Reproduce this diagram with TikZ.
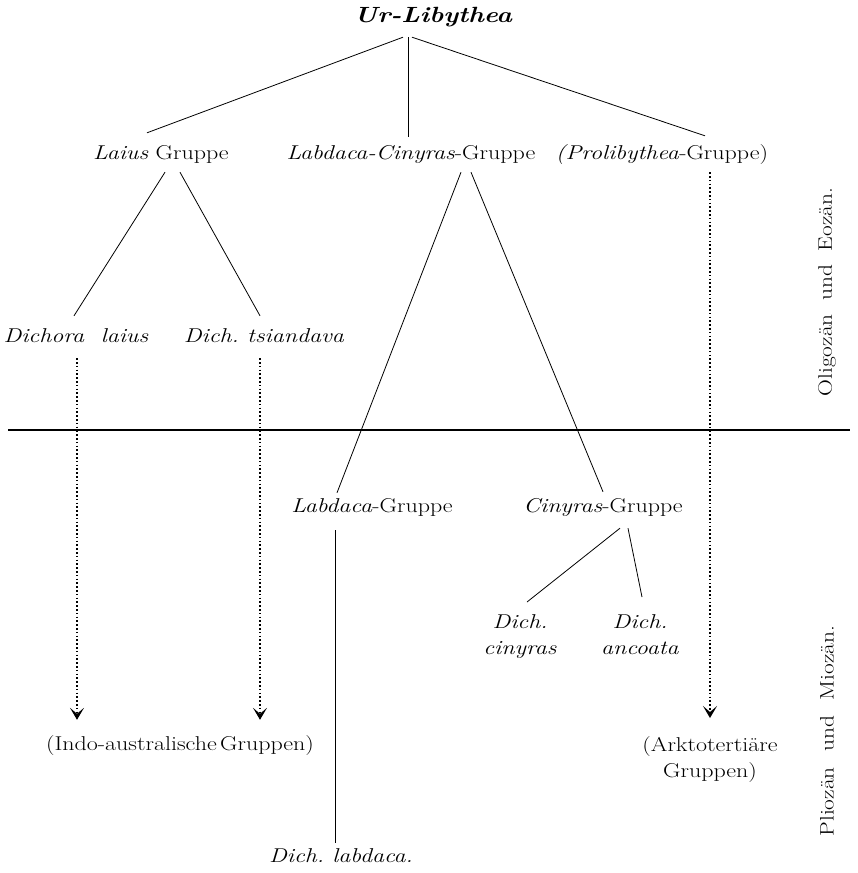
\documentclass[tikz,border=0pt]{standalone}
\usepackage{fontspec}
\setmainfont{Latin Modern Roman}[FakeStretch=1.2]
\usetikzlibrary{arrows.meta}
\begin{document}
\begin{tikzpicture}[x=1pt,y=-1pt,
  every node/.style={font=\fontsize{20}{26}\selectfont, inner sep=0pt},
  lbl/.style={anchor=base, text height=12pt, text depth=4pt},
  stack/.style={anchor=north, align=center},
  branch/.style={line width=0.8pt},
  lineage/.style={line width=1.2pt, dash pattern=on 1.6pt off 2.2pt,
    -{Stealth[length=12pt,width=14pt,inset=6pt]}},
  epoch/.style={rotate=90, font=\fontsize{19.5}{22}\selectfont},
]
\useasboundingbox (0,0) rectangle (858,873);

% root
\node[lbl, font=\fontsize{22}{24}\bfseries\itshape] (ur) at (433,22) {Ur-Libythea};

% first level groups
\node[lbl] (laius) at (161,159) {\textit{Laius} Gruppe};
\node[lbl] (lc)    at (411,159) {\textit{Labdaca-Cinyras}-Gruppe};
\node[lbl] (prol)  at (662,159) {\textit{(Prolibythea}-Gruppe)};

% species of the Laius group
\node[lbl] (dlaius) at (76,342)  {\textit{Dichora\ \ laius}};
\node[lbl] (dtsian) at (264,342) {\textit{Dich.\ tsiandava}};

% second level groups
\node[lbl] (labg) at (372,512) {\textit{Labdaca}-Gruppe};
\node[lbl] (cing) at (603,512) {\textit{Cinyras}-Gruppe};

% species of the Cinyras group
\node[stack] (dcin) at (520,614) {\textit{Dich.}\\\textit{cinyras}};
\node[stack] (danc) at (640,614) {\textit{Dich.}\\\textit{ancoata}};

\node[lbl] (dlab) at (341,862) {\textit{Dich.\ labdaca.}};

% descendant groups
\node[lbl] (indo) at (180,750) {(Indo-australische\,Gruppen)};
\node[stack] (arkt) at (710,736) {(Arktotertiäre\\Gruppen)};

% epochs
\node[epoch] (oli) at (827,292) {Oligozän\hspace{0.7em}und\hspace{0.7em}Eozän.};
\node[epoch] (pli) at (827,731) {Pliozän\hspace{0.8em}und\hspace{0.8em}Miozän.};

% epoch boundary
\coordinate (bl) at (8,430);
\coordinate (br) at (850,430);
\draw[line width=2.6pt] (bl) -- (br);

% branches
\draw[branch] ([shift={(-30,11)}]ur.south) -- ([shift={(-14,-14)}]laius.north);
\draw[branch] ([shift={(-25,11)}]ur.south) -- ([shift={(-3,-10)}]lc.north);
\draw[branch] ([shift={(-21,11)}]ur.south) -- ([shift={(43,-11)}]prol.north);

\draw[branch] ([shift={(4,9)}]laius.south) -- ([shift={(-2,-14)}]dlaius.north);
\draw[branch] ([shift={(19,9)}]laius.south) -- ([shift={(-4,-14)}]dtsian.north);

\draw[branch] ([shift={(50,9)}]lc.south) -- ([shift={(-35,-7)}]labg.north);
\draw[branch] ([shift={(60,9)}]lc.south) -- ([shift={(0,-8)}]cing.north);

\draw[branch] ([shift={(-37,14)}]labg.south) -- ([shift={(-6,-7)}]dlab.north);

\draw[branch] ([shift={(17,12)}]cing.south) -- ([shift={(7,-12)}]dcin.north);
\draw[branch] ([shift={(25,12)}]cing.south) -- ([shift={(2,-17)}]danc.north);

% lineages continuing into later epochs
\draw[lineage] ([shift={(1,12)}]dlaius.south) -- ([shift={(-103,-18)}]indo.north);
\draw[lineage] ([shift={(-4,12)}]dtsian.south) -- ([shift={(80,-18)}]indo.north);
\draw[lineage] ([shift={(48,9)}]prol.south) -- ([shift={(0,-18)}]arkt.north);
\end{tikzpicture}
\end{document}
